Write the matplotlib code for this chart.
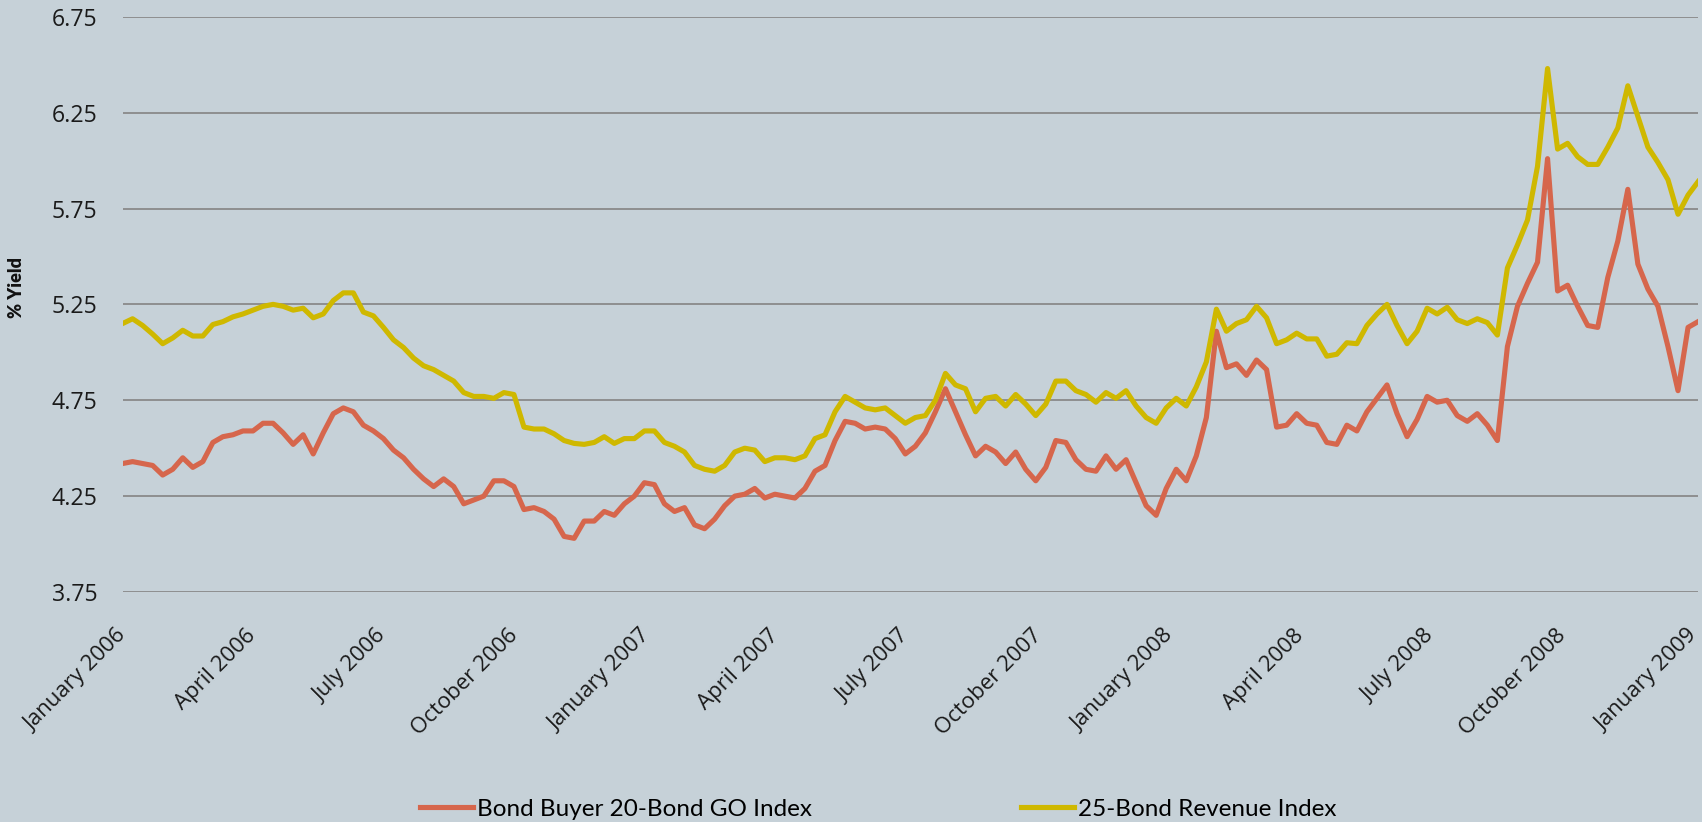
import matplotlib
matplotlib.use("Agg")
import matplotlib.pyplot as plt
import matplotlib.transforms as mtransforms
import pandas as pd

# weekly readings (Thursdays), 5 Jan 2006 .. 8 Jan 2009
weeks = pd.date_range("2006-01-05", periods=158, freq="7D")

go_index = [
    4.42, 4.43, 4.42, 4.41, 4.36, 4.39, 4.45, 4.40, 4.43, 4.53,
    4.56, 4.57, 4.59, 4.59, 4.63, 4.63, 4.58, 4.52, 4.57, 4.47,
    4.58, 4.68, 4.71, 4.69, 4.62, 4.59, 4.55, 4.49, 4.45, 4.39,
    4.34, 4.30, 4.34, 4.30, 4.21, 4.23, 4.25, 4.33, 4.33, 4.30,
    4.18, 4.19, 4.17, 4.13, 4.04, 4.03, 4.12, 4.12, 4.17, 4.15,
    4.21, 4.25, 4.32, 4.31, 4.21, 4.17, 4.19, 4.10, 4.08, 4.13,
    4.20, 4.25, 4.26, 4.29, 4.24, 4.26, 4.25, 4.24, 4.29, 4.38,
    4.41, 4.54, 4.64, 4.63, 4.60, 4.61, 4.60, 4.55, 4.47, 4.51,
    4.58, 4.69, 4.81, 4.69, 4.57, 4.46, 4.51, 4.48, 4.42, 4.48,
    4.39, 4.33, 4.40, 4.54, 4.53, 4.44, 4.39, 4.38, 4.46, 4.39,
    4.44, 4.32, 4.20, 4.15, 4.29, 4.39, 4.33, 4.46, 4.66, 5.11,
    4.92, 4.94, 4.88, 4.96, 4.91, 4.61, 4.62, 4.68, 4.63, 4.62,
    4.53, 4.52, 4.62, 4.59, 4.69, 4.76, 4.83, 4.68, 4.56, 4.65,
    4.77, 4.74, 4.75, 4.67, 4.64, 4.68, 4.62, 4.54, 5.03, 5.24,
    5.36, 5.47, 6.01, 5.32, 5.35, 5.24, 5.14, 5.13, 5.39, 5.58,
    5.85, 5.46, 5.33, 5.24, 5.03, 4.80, 5.13, 5.16,
]

revenue_index = [
    5.15, 5.175, 5.14, 5.095, 5.045, 5.075, 5.115, 5.085, 5.085, 5.145,
    5.16, 5.185, 5.20, 5.22, 5.24, 5.25, 5.24, 5.22, 5.23, 5.18,
    5.20, 5.27, 5.31, 5.31, 5.21, 5.19, 5.13, 5.065, 5.025, 4.97,
    4.93, 4.91, 4.88, 4.85, 4.79, 4.77, 4.77, 4.76, 4.79, 4.78,
    4.61, 4.60, 4.60, 4.575, 4.54, 4.525, 4.52, 4.53, 4.56, 4.525,
    4.55, 4.55, 4.59, 4.59, 4.53, 4.51, 4.48, 4.41, 4.39, 4.38,
    4.41, 4.48, 4.50, 4.49, 4.43, 4.45, 4.45, 4.44, 4.46, 4.55,
    4.57, 4.69, 4.77, 4.74, 4.71, 4.70, 4.71, 4.67, 4.63, 4.66,
    4.67, 4.75, 4.89, 4.83, 4.81, 4.69, 4.76, 4.77, 4.72, 4.78,
    4.73, 4.67, 4.73, 4.85, 4.85, 4.80, 4.78, 4.74, 4.79, 4.76,
    4.80, 4.72, 4.66, 4.63, 4.71, 4.76, 4.72, 4.82, 4.95, 5.225,
    5.11, 5.15, 5.17, 5.24, 5.18, 5.045, 5.065, 5.10, 5.07, 5.07,
    4.98, 4.99, 5.05, 5.045, 5.14, 5.20, 5.25, 5.14, 5.045, 5.11,
    5.23, 5.20, 5.235, 5.17, 5.15, 5.175, 5.155, 5.09, 5.44, 5.56,
    5.69, 5.97, 6.48, 6.06, 6.09, 6.02, 5.98, 5.98, 6.07, 6.17,
    6.39, 6.23, 6.07, 5.99, 5.90, 5.72, 5.82, 5.89,
]

quarters = pd.date_range("2006-01-05", periods=13, freq=pd.DateOffset(months=3))
quarter_labels = [
    "January 2006", "April 2006", "July 2006", "October 2006",
    "January 2007", "April 2007", "July 2007", "October 2007",
    "January 2008", "April 2008", "July 2008", "October 2008",
    "January 2009",
]
y_ticks = [3.75, 4.25, 4.75, 5.25, 5.75, 6.25, 6.75]

bg = "#C6D1D8"
red = "#D6664C"
yellow = "#CFB800"
txt = "#1A1A1A"

fig = plt.figure(figsize=(17.02, 8.22), dpi=100, facecolor=bg)
ax = fig.add_axes([0.072, 0.2798, 0.9257, 0.6998], facecolor=bg)

l1, = ax.plot(weeks, go_index, color=red, lw=3.7, solid_joinstyle="round")
l2, = ax.plot(weeks, revenue_index, color=yellow, lw=3.7, solid_joinstyle="round")

ax.set_xlim(weeks[0], weeks[-1])
ax.set_ylim(3.75, 6.75)
ax.set_yticks(y_ticks)
ax.set_yticklabels([f"{v:.2f}" for v in y_ticks], fontsize=16.7, color=txt,
                   family="Open Sans")
ax.set_xticks(quarters)
# slanted labels, end of baseline sits under the tick
ax.set_xticklabels(quarter_labels, rotation=45, ha="right", va="baseline",
                   rotation_mode="anchor", fontsize=15.9, color=txt,
                   family="Open Sans")
ax.tick_params(axis="both", length=0)
ax.tick_params(axis="y", pad=18)
ax.tick_params(axis="x", pad=32)

# nudge the slanted labels a few pixels right, as in the original
nudge = mtransforms.ScaledTranslation(5 / 100, 0, fig.dpi_scale_trans)
for lab in ax.get_xticklabels():
    lab.set_transform(lab.get_transform() + nudge)

ax.yaxis.grid(True, color="#8A8A8A", lw=1.3)
ax.set_axisbelow(True)
for s in ax.spines.values():
    s.set_visible(False)

fig.text(16 / 1702, 1 - 288 / 822, "% Yield", rotation=90, ha="center", va="center",
         fontsize=13, fontweight="heavy", family="Lato", color="#111111")

fig.legend([l1, l2], ["Bond Buyer 20-Bond GO Index", "25-Bond Revenue Index"],
           loc="center", bbox_to_anchor=(0.516, 1 - 809 / 822), ncol=2, frameon=False,
           handlelength=2.2, handletextpad=0.15, columnspacing=8.6,
           prop={"family": "Lato", "size": 17.5})

fig.savefig("out.png", dpi=100, facecolor=bg)
